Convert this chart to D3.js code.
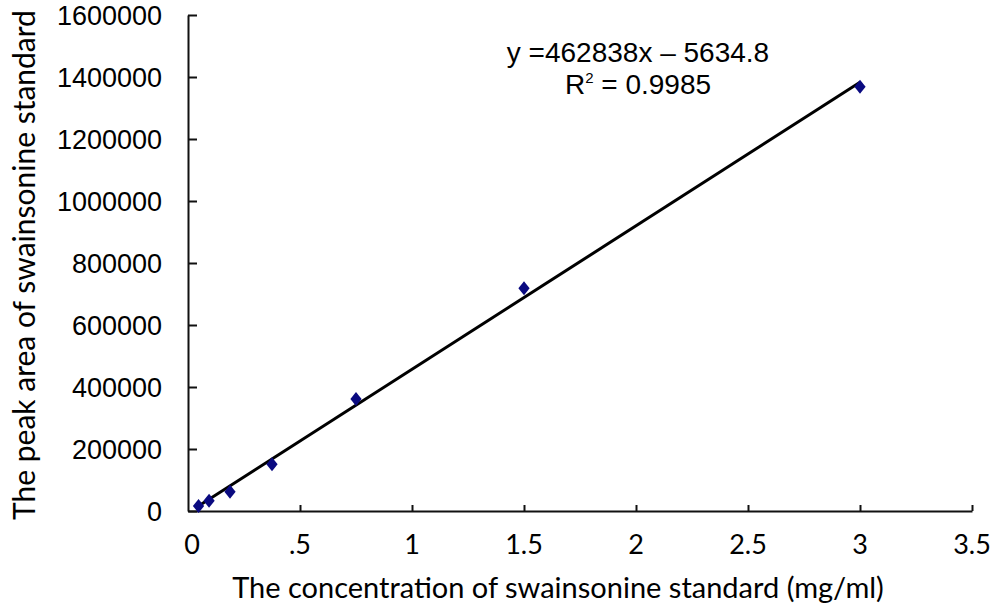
<!DOCTYPE html>
<html>
<head>
<meta charset="utf-8">
<script src="https://cdn.jsdelivr.net/npm/d3@7"></script>
<style>
  body { margin: 0; background: #fff; }
  svg { display: block; }
</style>
</head>
<body>
<div id="chart"></div>
<script>
// concentration (mg/ml) and peak area
var concentration = [0.047, 0.094, 0.1875, 0.375, 0.75, 1.5, 3];
var peakArea = [16100, 33200, 62300, 150600, 361300, 718400, 1368700];
var xTicks = [0, 0.5, 1, 1.5, 2, 2.5, 3, 3.5];
var xTickLabels = ["0", ".5", "1", "1.5", "2", "2.5", "3", "3.5"];
var yTicks = [0, 200000, 400000, 600000, 800000, 1000000, 1200000, 1400000, 1600000];
var slope = 462838, intercept = -5634.8;

var width = 1002, height = 604;

var x = d3.scaleLinear().domain([0, 3.5]).range([188, 972]);
var y = d3.scaleLinear().domain([0, 1600000]).range([511, 15]);

var svg = d3.select("#chart").append("svg")
  .attr("width", width)
  .attr("height", height);

// y axis, ticks point inwards
var yAxis = svg.append("g")
  .attr("transform", "translate(" + x(0) + ",0)")
  .call(d3.axisRight(y).tickValues(yTicks).tickSize(9).tickSizeOuter(0).tickFormat(""));
yAxis.select(".domain").attr("stroke", "#111").attr("stroke-width", 2);
yAxis.selectAll(".tick line").attr("stroke", "#111").attr("stroke-width", 2);

svg.append("g").selectAll("text")
  .data(yTicks)
  .enter().append("text")
    .attr("x", 162)
    .attr("y", function(d) { return y(d); })
    .attr("dy", "0.36em")
    .attr("text-anchor", "end")
    .attr("font-family", "Liberation Sans, Arial, sans-serif")
    .attr("font-size", 27)
    .attr("fill", "#000")
    .text(function(d) { return d3.format("d")(d); });

// x axis
var xAxis = svg.append("g")
  .attr("transform", "translate(0," + y(0) + ")")
  .call(d3.axisTop(x).tickValues(xTicks).tickSize(6).tickSizeOuter(0).tickFormat(""));
xAxis.select(".domain").attr("stroke", "#111").attr("stroke-width", 2);
xAxis.selectAll(".tick line").attr("stroke", "#111").attr("stroke-width", 2);
xAxis.selectAll(".tick").filter(function(d) { return d === 0; }).remove();

svg.append("g").selectAll("text")
  .data(xTicks)
  .enter().append("text")
    .attr("x", function(d) { return x(d) + (d === 0 ? 4 : 0); })
    .attr("y", 554)
    .attr("text-anchor", "middle")
    .attr("font-family", "Lato, sans-serif")
    .attr("font-size", 27)
    .attr("fill", "#000")
    .text(function(d, i) { return xTickLabels[i]; });

// trend line over the data range
var xExtent = d3.extent(concentration);
svg.append("line")
  .attr("x1", x(xExtent[0]))
  .attr("y1", y(slope * xExtent[0] + intercept))
  .attr("x2", x(xExtent[1]))
  .attr("y2", y(slope * xExtent[1] + intercept))
  .attr("stroke", "#000")
  .attr("stroke-width", 3);

// data points
svg.append("g").selectAll("path")
  .data(concentration)
  .enter().append("path")
    .attr("transform", function(d, i) { return "translate(" + x(d) + "," + y(peakArea[i]) + ") scale(1.25,0.9)"; })
    .attr("d", d3.symbol().type(d3.symbolDiamond).size(70))
    .attr("fill", "#0a0a80");

// equation
svg.append("text")
  .attr("x", 638)
  .attr("y", 62)
  .attr("text-anchor", "middle")
  .attr("font-family", "Liberation Sans, Arial, sans-serif")
  .attr("font-size", 28)
  .text("y =462838x \u2013 5634.8");

var r2 = svg.append("text")
  .attr("x", 638)
  .attr("y", 94)
  .attr("text-anchor", "middle")
  .attr("font-family", "Liberation Sans, Arial, sans-serif")
  .attr("font-size", 28);
r2.append("tspan").text("R");
r2.append("tspan").attr("dy", -11).attr("font-size", 15).text("2");
r2.append("tspan").attr("dy", 11).text(" = 0.9985");

// axis titles
svg.append("text")
  .attr("x", 558)
  .attr("y", 598)
  .attr("text-anchor", "middle")
  .attr("font-family", "Lato, sans-serif")
  .attr("font-size", 29)
  .text("The concentration of swainsonine standard (mg/ml)");

svg.append("text")
  .attr("transform", "translate(35,265) rotate(-90)")
  .attr("text-anchor", "middle")
  .attr("font-family", "Lato, sans-serif")
  .attr("font-size", 30)
  .text("The peak area of swainsonine standard");
</script>
</body>
</html>
